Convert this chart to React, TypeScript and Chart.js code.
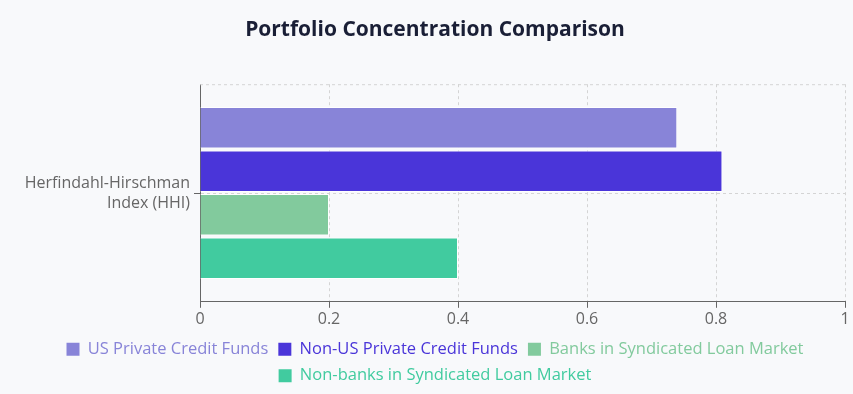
import React, { useEffect, useRef } from "react";
import { Chart, registerables } from "chart.js";
Chart.register(...registerables);

const categories = [["Herfindahl-Hirschman", "Index (HHI)"]];
const seriesNames = [
  "US Private Credit Funds",
  "Non-US Private Credit Funds",
  "Banks in Syndicated Loan Market",
  "Non-banks in Syndicated Loan Market",
];
const usPrivateCredit = [0.74];
const nonUsPrivateCredit = [0.81];
const banksSyndicated = [0.2];
const nonBanksSyndicated = [0.4];
const seriesColors = ["#8884d8", "#4a35d9", "#82ca9d", "#41cb9f"];
const xTicks = [0, 0.2, 0.4, 0.6, 0.8, 1];

const FONT = "'Open Sans', sans-serif";
const BG = "#f8f9fb";

const topLine = {
  id: "topLine",
  beforeDatasetsDraw(chart: any) {
    const { ctx, chartArea } = chart;
    ctx.save();
    ctx.strokeStyle = "#d4d4d4";
    ctx.lineWidth = 1;
    ctx.setLineDash([3, 3]);
    ctx.beginPath();
    ctx.moveTo(chartArea.left, chartArea.top + 0.5);
    ctx.lineTo(chartArea.right, chartArea.top + 0.5);
    ctx.stroke();
    ctx.restore();
  },
};

export default function App() {
  const ref = useRef<HTMLCanvasElement>(null);
  useEffect(() => {
    document.body.style.margin = "0";
    document.body.style.background = BG;
    const values = [usPrivateCredit, nonUsPrivateCredit, banksSyndicated, nonBanksSyndicated];
    const chart = new Chart(ref.current!, {
      type: "bar",
      data: {
        labels: categories as any,
        datasets: seriesNames.map((name, i) => ({
          label: name,
          data: values[i],
          backgroundColor: seriesColors[i],
          borderColor: "#ffffff",
          borderWidth: 1,
          barPercentage: 0.95,
          categoryPercentage: 0.8,
        })),
      },
      plugins: [topLine],
      options: {
        indexAxis: "y",
        animation: false,
        responsive: true,
        maintainAspectRatio: false,
        layout: { padding: { left: 0, right: 8, top: 0, bottom: 0 } },
        plugins: {
          title: {
            display: true,
            text: "Portfolio Concentration Comparison",
            color: "#1a1f36",
            font: { family: FONT, size: 21, weight: "bold" },
            padding: { top: 17, bottom: 42 },
          },
          legend: {
            position: "bottom",
            labels: {
              font: { family: FONT, size: 16.5 },
              boxWidth: 13,
              boxHeight: 13,
              padding: 10,
              generateLabels(chart: any) {
                return chart.data.datasets.map((d: any, i: number) => ({
                  text: d.label,
                  fillStyle: d.backgroundColor,
                  strokeStyle: d.backgroundColor,
                  lineWidth: 0,
                  fontColor: d.backgroundColor,
                  hidden: false,
                  datasetIndex: i,
                }));
              },
            },
          },
          tooltip: { enabled: false },
        },
        scales: {
          x: {
            min: 0,
            max: 1,
            afterBuildTicks(axis: any) {
              axis.ticks = xTicks.map((v) => ({ value: v }));
            },
            ticks: {
              color: "#666",
              font: { family: FONT, size: 16 },
              padding: 2,
              callback: (v: any) => String(Number(v)),
            },
            grid: { color: "#d4d4d4", tickColor: "#666", tickLength: 6, drawTicks: true },
            border: { display: true, color: "#666", dash: [3, 3] as any },
          },
          y: {
            afterFit(axis: any) {
              axis.width = 175;
            },
            ticks: { color: "#666", font: { family: FONT, size: 16, lineHeight: 1.25 }, padding: 4 },
            grid: { color: "#d4d4d4", offset: false, tickColor: "#666", tickLength: 6 },
            border: { display: true, color: "#666", dash: [3, 3] as any },
          },
        },
      },
    });
    return () => chart.destroy();
  }, []);
  return (
    <div style={{ width: 853, height: 394, background: BG, position: "relative" }}>
      <div style={{ position: "absolute", left: 25, top: 0, width: 828, height: 394 }}>
        <canvas ref={ref} />
      </div>
    </div>
  );
}
